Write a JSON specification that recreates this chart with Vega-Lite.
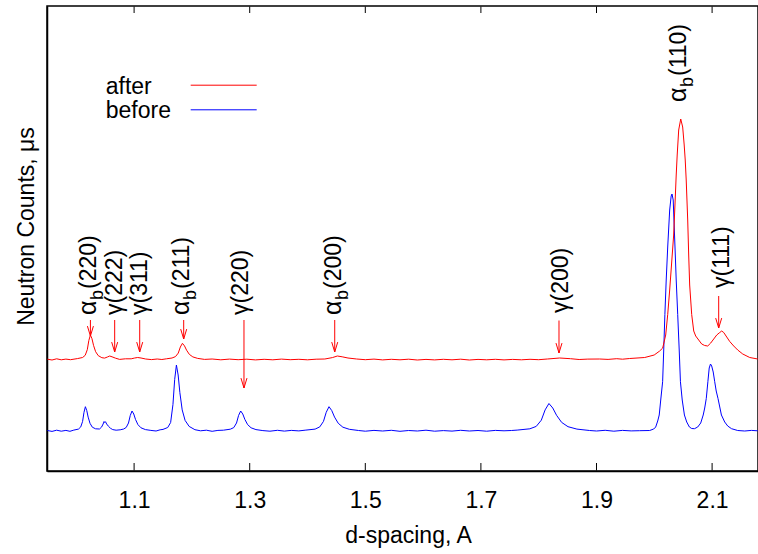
{
  "$schema": "https://vega.github.io/schema/vega-lite/v6.json",
  "width": 711,
  "height": 465,
  "autosize": {"type": "none"},
  "padding": {"left": 47, "top": 6, "right": 0, "bottom": 83},
  "background": "white",
  "config": {
    "view": {"stroke": "#000000", "strokeWidth": 1.5},
    "font": "Liberation Sans",
    "text": {"font": "Liberation Sans", "color": "black"}
  },
  "datasets": {
    "spectra": [
      {"d":0.950,"c":40.5,"s":"before"},{"d":0.958,"c":39.6,"s":"before"},{"d":0.966,"c":40.8,"s":"before"},{"d":0.974,"c":39.8,"s":"before"},{"d":0.982,"c":40.6,"s":"before"},{"d":0.989,"c":39.7,"s":"before"},
      {"d":0.9957,"c":40.9,"s":"before"},{"d":1.0037,"c":41.9,"s":"before"},{"d":1.0077,"c":44.1,"s":"before"},{"d":1.0109,"c":49.6,"s":"before"},{"d":1.0133,"c":58.7,"s":"before"},{"d":1.0157,"c":64.3,"s":"before"},{"d":1.0181,"c":60.4,"s":"before"},{"d":1.0205,"c":53.9,"s":"before"},{"d":1.0237,"c":47.7,"s":"before"},{"d":1.0277,"c":43.8,"s":"before"},{"d":1.0333,"c":42.2,"s":"before"},
      {"d":1.0401,"c":42.0,"s":"before"},{"d":1.0437,"c":43.9,"s":"before"},{"d":1.0464,"c":47.0,"s":"before"},{"d":1.0480,"c":49.5,"s":"before"},{"d":1.0491,"c":48.5,"s":"before"},{"d":1.0505,"c":49.3,"s":"before"},{"d":1.0525,"c":47.0,"s":"before"},{"d":1.0555,"c":44.8,"s":"before"},{"d":1.0590,"c":42.8,"s":"before"},{"d":1.0630,"c":41.4,"s":"before"},{"d":1.0689,"c":40.8,"s":"before"},
      {"d":1.0760,"c":41.2,"s":"before"},{"d":1.0820,"c":42.0,"s":"before"},{"d":1.0864,"c":43.6,"s":"before"},{"d":1.0903,"c":48.0,"s":"before"},{"d":1.0934,"c":55.6,"s":"before"},{"d":1.0964,"c":60.0,"s":"before"},{"d":1.0994,"c":57.0,"s":"before"},{"d":1.1024,"c":51.6,"s":"before"},{"d":1.1066,"c":46.4,"s":"before"},{"d":1.1119,"c":43.2,"s":"before"},{"d":1.1196,"c":41.4,"s":"before"},{"d":1.1290,"c":40.6,"s":"before"},{"d":1.1380,"c":40.0,"s":"before"},{"d":1.1450,"c":41.2,"s":"before"},
      {"d":1.1500,"c":41.6,"s":"before"},{"d":1.1582,"c":43.5,"s":"before"},{"d":1.1632,"c":48.5,"s":"before"},{"d":1.1672,"c":66.4,"s":"before"},{"d":1.1702,"c":91.5,"s":"before"},{"d":1.1732,"c":106,"s":"before"},{"d":1.1762,"c":96,"s":"before"},{"d":1.1792,"c":78.3,"s":"before"},{"d":1.1832,"c":61.1,"s":"before"},{"d":1.1882,"c":50.6,"s":"before"},{"d":1.1952,"c":44.6,"s":"before"},{"d":1.2052,"c":41.3,"s":"before"},{"d":1.2150,"c":40.2,"s":"before"},{"d":1.2250,"c":40.8,"s":"before"},{"d":1.2350,"c":39.7,"s":"before"},{"d":1.2450,"c":40.6,"s":"before"},
      {"d":1.2544,"c":40.8,"s":"before"},{"d":1.2664,"c":41.8,"s":"before"},{"d":1.2724,"c":43.4,"s":"before"},{"d":1.2772,"c":48.0,"s":"before"},{"d":1.2808,"c":55.6,"s":"before"},{"d":1.2844,"c":60.0,"s":"before"},{"d":1.2880,"c":57.0,"s":"before"},{"d":1.2916,"c":51.6,"s":"before"},{"d":1.2964,"c":46.4,"s":"before"},{"d":1.3024,"c":43.2,"s":"before"},{"d":1.3108,"c":41.4,"s":"before"},{"d":1.3228,"c":40.4,"s":"before"},{"d":1.3350,"c":39.8,"s":"before"},{"d":1.3480,"c":40.7,"s":"before"},{"d":1.3600,"c":39.9,"s":"before"},{"d":1.3720,"c":40.6,"s":"before"},{"d":1.3850,"c":40.1,"s":"before"},
      {"d":1.3972,"c":40.9,"s":"before"},{"d":1.4132,"c":41.9,"s":"before"},{"d":1.4212,"c":44.1,"s":"before"},{"d":1.4276,"c":49.6,"s":"before"},{"d":1.4324,"c":58.7,"s":"before"},{"d":1.4372,"c":64.3,"s":"before"},{"d":1.4420,"c":60.4,"s":"before"},{"d":1.4468,"c":53.9,"s":"before"},{"d":1.4532,"c":47.7,"s":"before"},{"d":1.4612,"c":43.8,"s":"before"},{"d":1.4724,"c":41.7,"s":"before"},{"d":1.4884,"c":40.5,"s":"before"},
      {"d":1.5000,"c":39.8,"s":"before"},{"d":1.5150,"c":40.6,"s":"before"},{"d":1.5300,"c":40.0,"s":"before"},{"d":1.5450,"c":40.7,"s":"before"},{"d":1.5600,"c":39.7,"s":"before"},{"d":1.5750,"c":40.5,"s":"before"},{"d":1.5900,"c":40.0,"s":"before"},{"d":1.6050,"c":40.8,"s":"before"},{"d":1.6200,"c":39.8,"s":"before"},{"d":1.6350,"c":40.4,"s":"before"},{"d":1.6500,"c":39.9,"s":"before"},{"d":1.6650,"c":40.7,"s":"before"},{"d":1.6800,"c":40.0,"s":"before"},{"d":1.6950,"c":40.5,"s":"before"},{"d":1.7100,"c":39.8,"s":"before"},{"d":1.7250,"c":40.6,"s":"before"},{"d":1.7400,"c":40.2,"s":"before"},{"d":1.7527,"c":40.5,"s":"before"},
      {"d":1.7627,"c":40.9,"s":"before"},{"d":1.7847,"c":42.2,"s":"before"},{"d":1.7957,"c":44.6,"s":"before"},{"d":1.8045,"c":50.8,"s":"before"},{"d":1.8111,"c":61.1,"s":"before"},{"d":1.8177,"c":67.5,"s":"before"},{"d":1.8243,"c":63.0,"s":"before"},{"d":1.8309,"c":55.7,"s":"before"},{"d":1.8397,"c":48.6,"s":"before"},{"d":1.8507,"c":44.3,"s":"before"},{"d":1.8661,"c":41.9,"s":"before"},{"d":1.8881,"c":40.5,"s":"before"},
      {"d":1.9000,"c":40.0,"s":"before"},{"d":1.9150,"c":40.7,"s":"before"},{"d":1.9300,"c":39.8,"s":"before"},{"d":1.9450,"c":40.6,"s":"before"},{"d":1.9600,"c":40.1,"s":"before"},
      {"d":1.9747,"c":40.3,"s":"before"},{"d":1.9920,"c":40.5,"s":"before"},{"d":1.9990,"c":42,"s":"before"},{"d":2.0024,"c":44,"s":"before"},{"d":2.0059,"c":50,"s":"before"},{"d":2.0085,"c":56,"s":"before"},{"d":2.0111,"c":71,"s":"before"},{"d":2.0144,"c":89.3,"s":"before"},{"d":2.0163,"c":121,"s":"before"},{"d":2.0183,"c":156.5,"s":"before"},{"d":2.0206,"c":191,"s":"before"},{"d":2.0232,"c":224,"s":"before"},{"d":2.0266,"c":261,"s":"before"},{"d":2.0292,"c":275,"s":"before"},{"d":2.0306,"c":277,"s":"before"},{"d":2.0327,"c":271,"s":"before"},{"d":2.0358,"c":224,"s":"before"},{"d":2.0379,"c":191,"s":"before"},{"d":2.0405,"c":156.5,"s":"before"},{"d":2.0431,"c":121,"s":"before"},{"d":2.0452,"c":89.3,"s":"before"},{"d":2.0483,"c":71,"s":"before"},{"d":2.0521,"c":56,"s":"before"},{"d":2.0561,"c":49,"s":"before"},{"d":2.0607,"c":44,"s":"before"},{"d":2.0647,"c":42.5,"s":"before"},{"d":2.0695,"c":42.3,"s":"before"},{"d":2.0751,"c":44,"s":"before"},{"d":2.0803,"c":48,"s":"before"},{"d":2.0846,"c":56,"s":"before"},{"d":2.0872,"c":63,"s":"before"},{"d":2.0899,"c":72.5,"s":"before"},{"d":2.0927,"c":89.3,"s":"before"},{"d":2.0950,"c":103,"s":"before"},{"d":2.0972,"c":107,"s":"before"},{"d":2.0993,"c":105,"s":"before"},{"d":2.1019,"c":99,"s":"before"},{"d":2.1045,"c":89.3,"s":"before"},{"d":2.1071,"c":80,"s":"before"},{"d":2.1102,"c":72.5,"s":"before"},{"d":2.1161,"c":56,"s":"before"},{"d":2.1218,"c":49,"s":"before"},{"d":2.1270,"c":45,"s":"before"},{"d":2.1336,"c":42.3,"s":"before"},{"d":2.1443,"c":40.5,"s":"before"},{"d":2.1564,"c":40,"s":"before"},{"d":2.1680,"c":40.6,"s":"before"},{"d":2.1789,"c":40.2,"s":"before"},

      {"d":0.950,"c":111.8,"s":"after"},{"d":0.958,"c":111.0,"s":"after"},{"d":0.966,"c":112.2,"s":"after"},{"d":0.974,"c":111.2,"s":"after"},{"d":0.982,"c":111.9,"s":"after"},{"d":0.990,"c":111.3,"s":"after"},
      {"d":1.0019,"c":112.4,"s":"after"},{"d":1.0109,"c":113.5,"s":"after"},{"d":1.0154,"c":115.7,"s":"after"},{"d":1.0190,"c":121.3,"s":"after"},{"d":1.0217,"c":130.6,"s":"after"},{"d":1.0244,"c":136,"s":"after"},{"d":1.0271,"c":132.3,"s":"after"},{"d":1.0298,"c":125.7,"s":"after"},{"d":1.0334,"c":119.3,"s":"after"},{"d":1.0379,"c":115.4,"s":"after"},{"d":1.0442,"c":113.3,"s":"after"},
      {"d":1.0490,"c":112.9,"s":"after"},{"d":1.0538,"c":114.0,"s":"after"},{"d":1.0578,"c":115.0,"s":"after"},{"d":1.0618,"c":114.2,"s":"after"},{"d":1.0680,"c":112.8,"s":"after"},{"d":1.0750,"c":111.6,"s":"after"},{"d":1.0850,"c":112.2,"s":"after"},
      {"d":1.0950,"c":112.2,"s":"after"},{"d":1.1010,"c":113.0,"s":"after"},{"d":1.1062,"c":113.5,"s":"after"},{"d":1.1120,"c":113.0,"s":"after"},{"d":1.1200,"c":112.0,"s":"after"},{"d":1.1300,"c":111.4,"s":"after"},{"d":1.1400,"c":112.0,"s":"after"},{"d":1.1480,"c":111.5,"s":"after"},
      {"d":1.1560,"c":112.2,"s":"after"},{"d":1.1656,"c":113.0,"s":"after"},{"d":1.1716,"c":114.4,"s":"after"},{"d":1.1764,"c":117.9,"s":"after"},{"d":1.1800,"c":124.0,"s":"after"},{"d":1.1836,"c":127.7,"s":"after"},{"d":1.1872,"c":125.1,"s":"after"},{"d":1.1908,"c":120.8,"s":"after"},{"d":1.1956,"c":116.6,"s":"after"},{"d":1.2016,"c":114.1,"s":"after"},{"d":1.2100,"c":112.6,"s":"after"},
      {"d":1.2220,"c":111.6,"s":"after"},{"d":1.2350,"c":112.0,"s":"after"},{"d":1.2500,"c":111.2,"s":"after"},{"d":1.2650,"c":111.9,"s":"after"},{"d":1.2800,"c":111.3,"s":"after"},{"d":1.2950,"c":111.8,"s":"after"},{"d":1.3100,"c":111.1,"s":"after"},{"d":1.3250,"c":111.7,"s":"after"},{"d":1.3400,"c":111.2,"s":"after"},{"d":1.3550,"c":111.9,"s":"after"},{"d":1.3700,"c":111.3,"s":"after"},{"d":1.3850,"c":111.7,"s":"after"},{"d":1.4000,"c":111.2,"s":"after"},{"d":1.4150,"c":111.8,"s":"after"},
      {"d":1.4300,"c":112.0,"s":"after"},{"d":1.4430,"c":113.4,"s":"after"},{"d":1.4517,"c":115.0,"s":"after"},{"d":1.4600,"c":114.2,"s":"after"},{"d":1.4700,"c":113.0,"s":"after"},{"d":1.4850,"c":112.0,"s":"after"},
      {"d":1.5000,"c":111.3,"s":"after"},{"d":1.5150,"c":111.9,"s":"after"},{"d":1.5300,"c":111.1,"s":"after"},{"d":1.5450,"c":111.7,"s":"after"},{"d":1.5600,"c":111.2,"s":"after"},{"d":1.5750,"c":111.8,"s":"after"},{"d":1.5900,"c":111.0,"s":"after"},{"d":1.6050,"c":111.6,"s":"after"},{"d":1.6200,"c":111.1,"s":"after"},{"d":1.6350,"c":111.7,"s":"after"},{"d":1.6500,"c":111.2,"s":"after"},{"d":1.6650,"c":111.8,"s":"after"},{"d":1.6800,"c":111.0,"s":"after"},{"d":1.6950,"c":111.6,"s":"after"},{"d":1.7100,"c":111.2,"s":"after"},{"d":1.7250,"c":111.7,"s":"after"},{"d":1.7400,"c":111.1,"s":"after"},{"d":1.7550,"c":111.6,"s":"after"},{"d":1.7700,"c":111.2,"s":"after"},{"d":1.7850,"c":111.7,"s":"after"},{"d":1.8000,"c":111.3,"s":"after"},
      {"d":1.8150,"c":112.0,"s":"after"},{"d":1.8363,"c":113.0,"s":"after"},{"d":1.8550,"c":112.3,"s":"after"},{"d":1.8700,"c":111.5,"s":"after"},{"d":1.8850,"c":111.9,"s":"after"},
      {"d":1.9055,"c":112.0,"s":"after"},{"d":1.9200,"c":111.6,"s":"after"},{"d":1.9350,"c":112.3,"s":"after"},{"d":1.9450,"c":111.8,"s":"after"},{"d":1.9574,"c":112.5,"s":"after"},{"d":1.9834,"c":113.5,"s":"after"},{"d":1.9998,"c":116,"s":"after"},{"d":2.0093,"c":120,"s":"after"},{"d":2.0145,"c":123,"s":"after"},{"d":2.0197,"c":136,"s":"after"},{"d":2.0232,"c":156.5,"s":"after"},{"d":2.0266,"c":181,"s":"after"},{"d":2.0301,"c":209,"s":"after"},{"d":2.0335,"c":236,"s":"after"},{"d":2.0361,"c":271,"s":"after"},{"d":2.0379,"c":296,"s":"after"},{"d":2.0396,"c":316,"s":"after"},{"d":2.0422,"c":341,"s":"after"},{"d":2.0457,"c":352,"s":"after"},{"d":2.0491,"c":344,"s":"after"},{"d":2.0517,"c":326,"s":"after"},{"d":2.0535,"c":311,"s":"after"},{"d":2.0552,"c":291,"s":"after"},{"d":2.0578,"c":251,"s":"after"},{"d":2.0595,"c":216,"s":"after"},{"d":2.0612,"c":186,"s":"after"},{"d":2.0647,"c":156.5,"s":"after"},{"d":2.0682,"c":140,"s":"after"},{"d":2.0716,"c":135,"s":"after"},{"d":2.0768,"c":131,"s":"after"},{"d":2.0820,"c":127,"s":"after"},{"d":2.0872,"c":125.5,"s":"after"},{"d":2.0924,"c":125,"s":"after"},{"d":2.0976,"c":128,"s":"after"},{"d":2.1028,"c":132,"s":"after"},{"d":2.1080,"c":136,"s":"after"},{"d":2.1132,"c":138.5,"s":"after"},{"d":2.1166,"c":140,"s":"after"},{"d":2.1201,"c":138.5,"s":"after"},{"d":2.1253,"c":134,"s":"after"},{"d":2.1305,"c":129.5,"s":"after"},{"d":2.1374,"c":125,"s":"after"},{"d":2.1443,"c":121,"s":"after"},{"d":2.1530,"c":117,"s":"after"},{"d":2.1651,"c":113.5,"s":"after"},{"d":2.1789,"c":112,"s":"after"}
    ],
    "labels": [
      {"d":1.0232,"c":156,"kind":"a","lab":"(220)"},
      {"d":1.0682,"c":156,"kind":"g","lab":"γ(222)"},
      {"d":1.1123,"c":156,"kind":"g","lab":"γ(311)"},
      {"d":1.1849,"c":156,"kind":"a","lab":"(211)"},
      {"d":1.2862,"c":156,"kind":"g","lab":"γ(220)"},
      {"d":1.4471,"c":156,"kind":"a","lab":"(200)"},
      {"d":1.8410,"c":158,"kind":"g","lab":"γ(200)"},
      {"d":2.1190,"c":183,"kind":"g","lab":"γ(111)"},
      {"d":2.0440,"c":369,"kind":"a","lab":"(110)"}
    ],
    "arrows": [
      {"d":1.0244,"c":151,"c2":135},
      {"d":1.0664,"c":151,"c2":119},
      {"d":1.1097,"c":151,"c2":119},
      {"d":1.1858,"c":151,"c2":132},
      {"d":1.2901,"c":151,"c2":83},
      {"d":1.4471,"c":151,"c2":119},
      {"d":1.8351,"c":150.5,"c2":118},
      {"d":2.1114,"c":175,"c2":143}
    ],
    "frame": [
      {"d":1.1,"c":0.5,"c2":8,"k":"t"},{"d":1.3,"c":0.5,"c2":8,"k":"t"},{"d":1.5,"c":0.5,"c2":8,"k":"t"},{"d":1.7,"c":0.5,"c2":8,"k":"t"},{"d":1.9,"c":0.5,"c2":8,"k":"t"},{"d":2.1,"c":0.5,"c2":8,"k":"t"},
      {"d":1.1,"c":464.5,"c2":458,"k":"t"},{"d":1.3,"c":464.5,"c2":458,"k":"t"},{"d":1.5,"c":464.5,"c2":458,"k":"t"},{"d":1.7,"c":464.5,"c2":458,"k":"t"},{"d":1.9,"c":464.5,"c2":458,"k":"t"},{"d":2.1,"c":464.5,"c2":458,"k":"t"}
    ],
    "legendText": [
      {"d":1.0509,"c":377,"s":"after"},
      {"d":1.0509,"c":353,"s":"before"}
    ],
    "legendLines": [
      {"d":1.1979,"d2":1.3121,"c":385.8,"s":"after"},
      {"d":1.1979,"d2":1.3121,"c":361.2,"s":"before"}
    ]
  },
  "layer": [
    {
      "data": {"name": "spectra"},
      "mark": {"type": "line", "strokeWidth": 1},
      "encoding": {
        "x": {
          "field": "d", "type": "quantitative",
          "scale": {"domain": [0.9493, 2.1794], "nice": false, "zero": false},
          "axis": {
            "values": [1.1, 1.3, 1.5, 1.7, 1.9, 2.1], "format": ".1f",
            "grid": false, "ticks": false, "tickSize": 0,
            "domain": true, "domainColor": "black", "domainWidth": 1.5,
            "labelFontSize": 23, "labelColor": "black", "labelBaseline": "alphabetic", "labelPadding": 36,
            "labelFlush": false, "labelOverlap": false, "labelFont": "Liberation Sans",
            "title": "d-spacing, A", "titleFontSize": 23, "titleFontWeight": "normal", "titleColor": "black",
            "titleFont": "Liberation Sans", "titleX": 361, "titleY": 71, "titleBaseline": "alphabetic", "titleAlign": "center"
          }
        },
        "y": {
          "field": "c", "type": "quantitative",
          "scale": {"domain": [0, 465], "nice": false, "zero": false},
          "axis": {
            "labels": false, "ticks": false, "grid": false,
            "domain": true, "domainColor": "black", "domainWidth": 1.5,
            "title": "Neutron Counts, μs", "titleFontSize": 23, "titleFontWeight": "normal", "titleColor": "black",
            "titleFont": "Liberation Sans", "titleX": -14, "titleY": 220, "titleAngle": 270,
            "titleBaseline": "alphabetic", "titleAlign": "center"
          }
        },
        "color": {"field": "s", "type": "nominal", "scale": {"domain": ["after", "before"], "range": ["#ff0000", "#0000ff"]}, "legend": null}
      }
    },
    {
      "data": {"name": "arrows"},
      "mark": {"type": "rule", "color": "#ff0000", "strokeWidth": 1},
      "encoding": {
        "x": {"field": "d", "type": "quantitative", "scale": {"domain": [0.9493, 2.1794], "nice": false, "zero": false}},
        "y": {"field": "c", "type": "quantitative", "scale": {"domain": [0, 465], "nice": false, "zero": false}},
        "y2": {"field": "c2"}
      }
    },
    {
      "data": {"name": "arrows"},
      "mark": {"type": "point", "shape": "M-1,-3.3L0,0L1,-3.3", "size": 36, "filled": false, "stroke": "#ff0000", "strokeWidth": 1, "opacity": 1},
      "encoding": {
        "x": {"field": "d", "type": "quantitative", "scale": {"domain": [0.9493, 2.1794], "nice": false, "zero": false}},
        "y": {"field": "c2", "type": "quantitative", "scale": {"domain": [0, 465], "nice": false, "zero": false}}
      }
    },
    {
      "data": {"name": "labels"},
      "transform": [{"filter": "datum.kind == 'a'"}],
      "mark": {"type": "text", "angle": 270, "align": "left", "baseline": "alphabetic", "dy": 6, "fontSize": 25, "font": "Liberation Sans", "color": "black"},
      "encoding": {
        "x": {"field": "d", "type": "quantitative", "scale": {"domain": [0.9493, 2.1794], "nice": false, "zero": false}},
        "y": {"field": "c", "type": "quantitative", "scale": {"domain": [0, 465], "nice": false, "zero": false}},
        "text": {"value": "α"}
      }
    },
    {
      "data": {"name": "labels"},
      "transform": [{"filter": "datum.kind == 'a'"}],
      "mark": {"type": "text", "angle": 270, "align": "left", "baseline": "alphabetic", "dx": 15, "dy": 13, "fontSize": 18, "font": "Liberation Sans", "color": "black"},
      "encoding": {
        "x": {"field": "d", "type": "quantitative", "scale": {"domain": [0.9493, 2.1794], "nice": false, "zero": false}},
        "y": {"field": "c", "type": "quantitative", "scale": {"domain": [0, 465], "nice": false, "zero": false}},
        "text": {"value": "b"}
      }
    },
    {
      "data": {"name": "labels"},
      "transform": [{"filter": "datum.kind == 'a'"}],
      "mark": {"type": "text", "angle": 270, "align": "left", "baseline": "alphabetic", "dx": 26, "dy": 6, "fontSize": 23, "font": "Liberation Sans", "color": "black"},
      "encoding": {
        "x": {"field": "d", "type": "quantitative", "scale": {"domain": [0.9493, 2.1794], "nice": false, "zero": false}},
        "y": {"field": "c", "type": "quantitative", "scale": {"domain": [0, 465], "nice": false, "zero": false}},
        "text": {"field": "lab"}
      }
    },
    {
      "data": {"name": "labels"},
      "transform": [{"filter": "datum.kind == 'g'"}],
      "mark": {"type": "text", "angle": 270, "align": "left", "baseline": "alphabetic", "dy": 6, "fontSize": 23, "font": "Liberation Sans", "color": "black"},
      "encoding": {
        "x": {"field": "d", "type": "quantitative", "scale": {"domain": [0.9493, 2.1794], "nice": false, "zero": false}},
        "y": {"field": "c", "type": "quantitative", "scale": {"domain": [0, 465], "nice": false, "zero": false}},
        "text": {"field": "lab"}
      }
    },
    {
      "data": {"name": "legendText"},
      "mark": {"type": "text", "align": "left", "baseline": "alphabetic", "fontSize": 23, "font": "Liberation Sans", "color": "black"},
      "encoding": {
        "x": {"field": "d", "type": "quantitative", "scale": {"domain": [0.9493, 2.1794], "nice": false, "zero": false}},
        "y": {"field": "c", "type": "quantitative", "scale": {"domain": [0, 465], "nice": false, "zero": false}},
        "text": {"field": "s"}
      }
    },
    {
      "data": {"name": "legendLines"},
      "mark": {"type": "rule", "strokeWidth": 1},
      "encoding": {
        "x": {"field": "d", "type": "quantitative", "scale": {"domain": [0.9493, 2.1794], "nice": false, "zero": false}},
        "x2": {"field": "d2"},
        "y": {"field": "c", "type": "quantitative", "scale": {"domain": [0, 465], "nice": false, "zero": false}},
        "color": {"field": "s", "type": "nominal", "scale": {"domain": ["after", "before"], "range": ["#ff0000", "#0000ff"]}, "legend": null}
      }
    },
    {
      "data": {"name": "frame"},
      "mark": {"type": "rule", "strokeWidth": 1},
      "encoding": {
        "x": {"field": "d", "type": "quantitative", "scale": {"domain": [0.9493, 2.1794], "nice": false, "zero": false}},
        "y": {"field": "c", "type": "quantitative", "scale": {"domain": [0, 465], "nice": false, "zero": false}},
        "y2": {"field": "c2"},
        "stroke": {"field": "k", "type": "nominal", "scale": {"domain": ["t"], "range": ["#000000"]}, "legend": null}
      }
    }
  ]
}
